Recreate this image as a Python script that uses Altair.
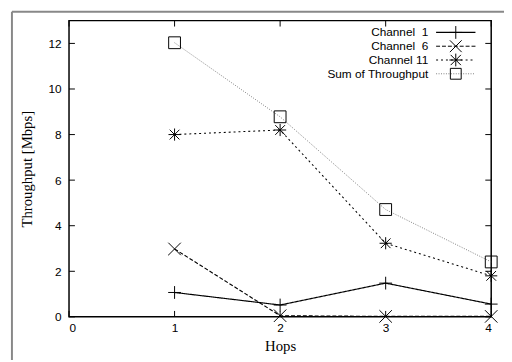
import altair as alt
import pandas as pd

# ---- data ----
hops = [1, 2, 3, 4]
channel_1 = [1.07, 0.52, 1.48, 0.56]
channel_6 = [2.98, 0.05, 0.02, 0.02]
channel_11 = [8.0, 8.2, 3.23, 1.8]
sum_throughput = [12.03, 8.78, 4.71, 2.41]
series_names = ["Channel\u00a0\u00a01", "Channel\u00a0\u00a06", "Channel 11", "Sum of Throughput"]
x_ticks = [0, 1, 2, 3, 4]
y_ticks = [0, 2, 4, 6, 8, 10, 12]

W, H = 429, 301
SANS = "Liberation Sans"
SERIF = "Liberation Serif"

PLUS = "M-1,0L1,0M0,-1L0,1"
XS = "M-1,-1L1,1M-1,1L1,-1"
STAR = "M-1,0L1,0M0,-1L0,1M-0.8,-0.8L0.8,0.8M-0.8,0.8L0.8,-0.8"
SQUARE = "M-1,-1L1,-1L1,1L-1,1Z"

line_colors = ["#000000", "#000000", "#000000", "#808080"]
dashes = [[1, 0], [4, 2], [2, 3], [1, 1.5]]
shapes = [PLUS, XS, STAR, SQUARE]
sizes = [169, 144, 169, 121]
widths = [1.2, 1.0, 1.1, 1.0]

rows = []
for name, vals in zip(series_names, [channel_1, channel_6, channel_11, sum_throughput]):
    for h, v in zip(hops, vals):
        rows.append({"series": name, "hops": h, "value": v})
df = pd.DataFrame(rows)

xs = alt.Scale(domain=[0, 4], nice=False, zero=False)
ys = alt.Scale(domain=[0, 13], nice=False)

xaxis = alt.Axis(values=x_ticks, format="d", title="Hops", ticks=False, domain=False, grid=False,
                 labelFont=SANS, labelFontSize=12, labelColor="black", labelPadding=6,
                 titleFont=SERIF, titleFontSize=15, titleFontWeight="normal", titleColor="black",
                 titlePadding=5)
yaxis = alt.Axis(values=y_ticks, format="d", title="Throughput [Mbps]", ticks=False, domain=False, grid=False,
                 labelFont=SANS, labelFontSize=12, labelColor="black", labelPadding=8,
                 titleFont=SERIF, titleFontSize=15, titleFontWeight="normal", titleColor="black",
                 titlePadding=14)

base = alt.Chart(df)
lines = base.mark_line().encode(
    x=alt.X("hops:Q", scale=xs, axis=xaxis),
    y=alt.Y("value:Q", scale=ys, axis=yaxis),
    color=alt.Color("series:N", scale=alt.Scale(domain=series_names, range=line_colors), legend=None),
    strokeDash=alt.StrokeDash("series:N", scale=alt.Scale(domain=series_names, range=dashes), legend=None),
    strokeWidth=alt.StrokeWidth("series:N", scale=alt.Scale(domain=series_names, range=widths), legend=None),
    detail="series:N",
)
points = base.mark_point(filled=False, color="black", strokeWidth=1, opacity=1).encode(
    x=alt.X("hops:Q", scale=xs, axis=xaxis),
    y=alt.Y("value:Q", scale=ys, axis=yaxis),
    shape=alt.Shape("series:N", scale=alt.Scale(domain=series_names, range=shapes), legend=None),
    size=alt.Size("series:N", scale=alt.Scale(domain=series_names, range=sizes), legend=None),
)

# inward ticks (gnuplot style, mirrored)
ydf = pd.DataFrame({"value": y_ticks})
xdf = pd.DataFrame({"hops": x_ticks})
tick_left = alt.Chart(ydf).mark_rule(color="black", strokeWidth=1).encode(
    y=alt.Y("value:Q", scale=ys, axis=yaxis), x=alt.value(0), x2=alt.value(6))
tick_right = alt.Chart(ydf).mark_rule(color="black", strokeWidth=1).encode(
    y=alt.Y("value:Q", scale=ys, axis=yaxis), x=alt.value(W - 6), x2=alt.value(W))
tick_bottom = alt.Chart(xdf).mark_rule(color="black", strokeWidth=1).encode(
    x=alt.X("hops:Q", scale=xs, axis=xaxis), y=alt.value(H - 6), y2=alt.value(H))
tick_top = alt.Chart(xdf).mark_rule(color="black", strokeWidth=1).encode(
    x=alt.X("hops:Q", scale=xs, axis=xaxis), y=alt.value(0), y2=alt.value(6))

# gnuplot-style key, top right inside
legend_layers = []
for i, name in enumerate(series_names):
    ry = 12 + 14 * i
    ldf = pd.DataFrame({"label": [name]})
    legend_layers.append(alt.Chart(ldf).mark_text(align="right", baseline="middle", font=SANS,
                                                  fontSize=12, color="black").encode(
        x=alt.value(365), y=alt.value(ry), text="label:N"))
    legend_layers.append(alt.Chart(ldf).mark_rule(color=line_colors[i], strokeDash=dashes[i],
                                                  strokeWidth=widths[i]).encode(
        x=alt.value(373), x2=alt.value(413), y=alt.value(ry)))
    legend_layers.append(alt.Chart(ldf).mark_point(shape=shapes[i], size=sizes[i], filled=False,
                                                   color="black", strokeWidth=1, opacity=1).encode(
        x=alt.value(393), y=alt.value(ry)))

# grey figure frame
fdf = pd.DataFrame({"f": [0]})
frame_left = alt.Chart(fdf).mark_rule(color="#888888", strokeWidth=2).encode(
    x=alt.value(-58), y=alt.value(-9), y2=alt.value(H + 60))
frame_top = alt.Chart(fdf).mark_rule(color="#888888", strokeWidth=2).encode(
    x=alt.value(-58), x2=alt.value(W + 20), y=alt.value(-9))

chart = alt.layer(
    lines, points, tick_left, tick_right, tick_bottom, tick_top,
    *legend_layers, frame_left, frame_top
).properties(
    width=W, height=H,
    padding={"left": 62, "top": 10, "right": 13, "bottom": 41},
    autosize=alt.AutoSizeParams(type="none"),
    background="white",
).configure_view(stroke="black", strokeWidth=1.5)

chart.save("out.html", embed_options={"renderer": "svg", "actions": False})
